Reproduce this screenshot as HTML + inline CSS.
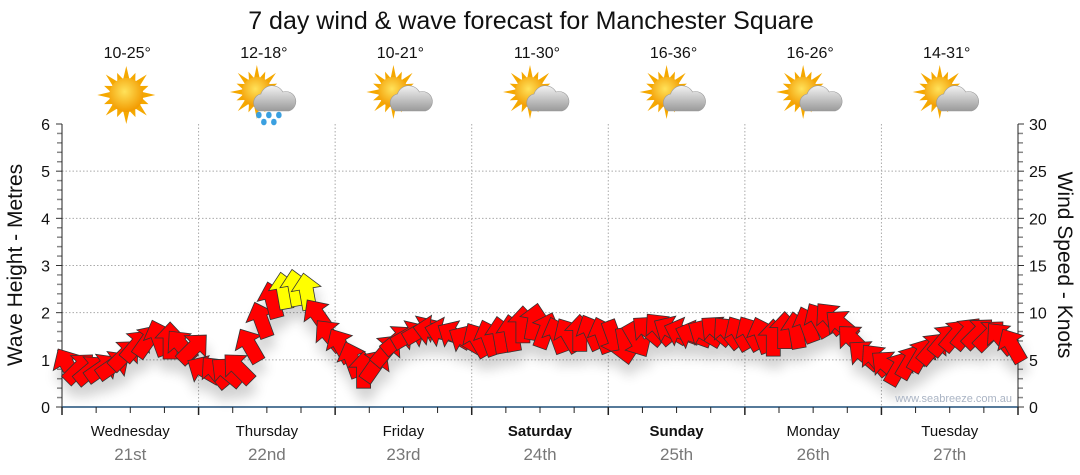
<!DOCTYPE html>
<html><head><meta charset="utf-8">
<style>
html,body{margin:0;padding:0;background:#fff;}
svg{display:block;font-family:"Liberation Sans","DejaVu Sans",sans-serif;}
</style></head>
<body>
<svg id="chart" width="1080" height="475" viewBox="0 0 1080 475" xmlns="http://www.w3.org/2000/svg">
<defs>
<filter id="shadow" x="-50%" y="-50%" width="200%" height="200%">
<feGaussianBlur in="SourceAlpha" stdDeviation="6"/>
<feOffset dx="2" dy="12" result="o"/>
<feComponentTransfer><feFuncA type="linear" slope="0.18"/></feComponentTransfer>
<feMerge><feMergeNode/><feMergeNode in="SourceGraphic"/></feMerge>
</filter>
<radialGradient id="sunGrad" cx="45%" cy="40%" r="60%"><stop offset="0" stop-color="#ffe25a"/><stop offset="1" stop-color="#f29a00"/></radialGradient>
<linearGradient id="cloudGrad" x1="0" y1="0" x2="0" y2="1"><stop offset="0" stop-color="#f2f2f2"/><stop offset="1" stop-color="#9a9a9a"/></linearGradient>
</defs>
<text x="531" y="29" font-size="25" text-anchor="middle" fill="#111">7 day wind &amp; wave forecast for Manchester Square</text>
<g id="icons"></g>
<g id="grid"></g>
<g id="axes"></g>
<g id="marks" filter="url(#shadow)"></g>
<text x="1012" y="402" font-size="11" text-anchor="end" fill="#aab4c4">www.seabreeze.com.au</text>
<text transform="translate(22,265) rotate(-90)" font-size="21" text-anchor="middle" fill="#111">Wave Height - Metres</text>
<text transform="translate(1058,265) rotate(90)" font-size="21" text-anchor="middle" fill="#111">Wind Speed - Knots</text>
</svg>
<script>
const days = ["Wednesday","Thursday","Friday","Saturday","Sunday","Monday","Tuesday"];
const dates = ["21st","22nd","23rd","24th","25th","26th","27th"];
const boldDays = [false,false,false,true,true,false,false];
const temps = ["10-25°","12-18°","10-21°","11-30°","16-36°","16-26°","14-31°"];
const icons = ["sun","rain","cloud","cloud","cloud","cloud","cloud"];
const waveTicks = [0,1,2,3,4,5,6];
const windTicks = [0,5,10,15,20,25,30];
// wind speed (knots), every 2 hours
const windSpeed = [
4.4,4.1,3.9,4.1,4.4,5.5,6.5,7.0,7.3,7.0,6.5,6.2,
3.9,3.7,3.7,4.1,6.5,9.2,11.3,12.3,12.6,12.2,9.7,7.6,
6.5,5.0,3.9,4.4,6.0,7.1,7.6,8.1,8.1,7.9,7.6,7.1,
7.1,7.3,7.6,7.8,8.7,9.0,8.1,7.6,7.6,7.8,7.9,7.6,
7.3,6.5,7.1,8.1,8.3,8.1,7.9,7.6,7.8,8.1,7.9,7.8,
7.8,7.6,7.3,8.1,8.1,8.7,9.2,9.4,8.7,7.1,5.5,5.0,
4.4,4.1,4.8,5.5,6.2,7.1,7.6,7.8,7.8,7.6,7.3,6.5];
// arrow heading (degrees clockwise from up)
const windDir = [
-30,45,50,55,55,45,40,35,-20,0,-40,45,
-60,-40,-50,-45,-30,-20,-15,-10,-10,-10,-35,-40,
-30,-20,0,35,40,50,60,60,-80,-75,-60,-60,
-30,-20,-10,-10,0,10,20,-20,-30,0,-25,-20,
160,170,150,-50,-40,-60,-70,-70,-60,-50,-40,-30,
-30,-20,0,0,-10,-20,-30,-40,-50,-45,-50,-40,
-50,30,30,30,40,40,40,40,45,45,-40,-30];

const svg = document.getElementById('chart');
const NS = 'http://www.w3.org/2000/svg';
const X0 = 62, X1 = 1018, Y0 = 407, Y6 = 124;
function xHour(h){ return X0 + (X1 - X0) * h / 168; }
function yWave(m){ return Y0 - (Y0 - Y6) * m / 6; }
function yWind(k){ return Y0 - (Y0 - Y6) * k / 30; }
function mk(tag, attrs, parent){
  const e = document.createElementNS(NS, tag);
  for (const k in attrs) e.setAttribute(k, attrs[k]);
  parent.appendChild(e); return e;
}
const grid = document.getElementById('grid');
const axes = document.getElementById('axes');
const marks = document.getElementById('marks');
const iconG = document.getElementById('icons');

waveTicks.forEach(function(t){
  if (t > 0 && t < 6) {
    const l = mk('line',{x1:X0,x2:X1,y1:yWave(t),y2:yWave(t),stroke:'#aaa','stroke-dasharray':'1.5,2'},grid);
    
    
  }
  const tx = mk('text',{x:50,y:yWave(t)+6,'font-size':16,'text-anchor':'end',fill:'#111'},axes);
  tx.textContent = t;
  
  
});
windTicks.forEach(function(t){
  const tx = mk('text',{x:1029,y:yWind(t)+6,'font-size':16,'text-anchor':'start',fill:'#111'},axes);
  tx.textContent = t;
  
  
});
for (let i = 0; i <= 30; i++) {
  const y = Y0 - (Y0 - Y6) * i / 30;
  const big = i % 5 === 0;
  mk('line',{x1:X0-(big?6:5),x2:X0,y1:y,y2:y,stroke:big?'#333':'#888','stroke-width':big?1:1.5},axes);
  mk('line',{x1:X1,x2:X1+(big?6:5),y1:y,y2:y,stroke:big?'#333':'#888','stroke-width':big?1:1.5},axes);
}
mk('line',{x1:X0,x2:X0,y1:Y6,y2:Y0,stroke:'#222'},axes);
mk('line',{x1:X1,x2:X1,y1:Y6,y2:Y0,stroke:'#222'},axes);
mk('line',{x1:X0,x2:X1,y1:Y0,y2:Y0,stroke:'#1f4e79','stroke-width':1.5},axes);
for (let h = 0; h <= 168; h += 6) {
  const x = xHour(h), big = h % 24 === 0;
  mk('line',{x1:x,x2:x,y1:Y0,y2:Y0+(big?8:6),stroke:'#222','stroke-width':big?1.5:1},axes);
}
days.forEach(function(d,i){
  const xb = xHour(i*24);
  if (i > 0) {
    const l = mk('line',{x1:xb,x2:xb,y1:Y6,y2:Y0,stroke:'#aaa','stroke-dasharray':'1.5,2'},grid);
    
    
  }
  const cx = xHour(i*24+12);
  const t1 = mk('text',{x:cx,y:436,'font-size':15,'text-anchor':'middle',fill:'#111','font-weight':boldDays[i]?'bold':'normal'},axes);
  t1.textContent = d;
  
  
  const t2 = mk('text',{x:cx,y:460,'font-size':17,'text-anchor':'middle',fill:'#777'},axes);
  t2.textContent = dates[i];
  
  
  const t3 = mk('text',{x:cx-3,y:58,'font-size':16,'text-anchor':'middle',fill:'#111'},iconG);
  t3.textContent = temps[i];
  
  
  const g = mk('g',{transform:'translate('+(cx-4)+',95)'},iconG);
  
  
  const sun = icons[i]==='sun';
  const sx = sun?0:-6, sy = sun?0:-3, sr = sun?17:15;
  for (let a = 0; a < 16; a++) {
    const ang = a*Math.PI/8, L = a%2 ? sr+7 : sr+12;
    const p1 = [sx+Math.cos(ang)*L, sy+Math.sin(ang)*L];
    const p2 = [sx+Math.cos(ang+0.2)*(sr-1), sy+Math.sin(ang+0.2)*(sr-1)];
    const p3 = [sx+Math.cos(ang-0.2)*(sr-1), sy+Math.sin(ang-0.2)*(sr-1)];
    mk('polygon',{points:p1+' '+p2+' '+p3,fill:'#f5a800'},g);
  }
  mk('circle',{cx:sx,cy:sy,r:sr,fill:'url(#sunGrad)'},g);
  if (!sun) {
    mk('path',{d:'M-4,16 a9,9 0 0 1 2,-17 a12,12 0 0 1 22,-2 a9,9 0 0 1 6,19 z',fill:'url(#cloudGrad)',stroke:'#999','stroke-width':0.6},g);
  }
  if (icons[i] === 'rain') {
    [[-4,20],[6,20],[16,20],[1,27],[11,27]].forEach(function(p){
      mk('ellipse',{cx:p[0],cy:p[1],rx:2.8,ry:3.3,fill:'#3aa0e0'},g);
    });
  }
});
windSpeed.forEach(function(k,i){
  const x = xHour(1 + i*2), y = yWind(k);
  const fill = k >= 12 ? '#ffff00' : '#ff0000';
  const p = mk('polygon',{
    points:'-7,18 7,18 7,-3 15,-3 0,-19 -15,-3 -7,-3',
    fill:fill, stroke:'#333','stroke-width':0.8,
    transform:'translate('+x.toFixed(1)+','+y.toFixed(1)+') rotate('+windDir[i]+')'
  },marks);
  
  
});
</script>
</body></html>
